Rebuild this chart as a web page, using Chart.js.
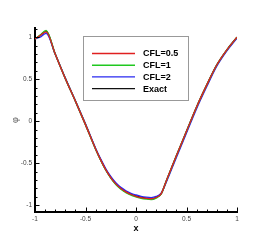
<!DOCTYPE html>
<html><head><meta charset="utf-8">
<script src="https://cdn.jsdelivr.net/npm/chart.js@4/dist/chart.umd.min.js"></script>
<style>html,body{margin:0;padding:0;background:#fff}canvas{display:block}</style>
</head><body>
<canvas id="c" width="270" height="240"></canvas>
<script>
const xs    = [-1, -0.95, -0.89, -0.8, -0.7, -0.6, -0.5, -0.4, -0.35, -0.3, -0.25, -0.2, -0.15, -0.1, -0.05, 0, 0.05, 0.1, 0.15, 0.2, 0.25, 0.3, 0.4, 0.5, 0.6, 0.7, 0.8, 0.9, 1];
const exact = [0.98, 1.02, 1.07, 0.80, 0.51, 0.24, -0.04, -0.33, -0.46, -0.575, -0.67, -0.745, -0.80, -0.84, -0.87, -0.89, -0.905, -0.915, -0.92, -0.905, -0.86, -0.71, -0.41, -0.12, 0.17, 0.43, 0.67, 0.85, 1.0];
const cfl05 = [0.98, 1.02, 1.065, 0.80, 0.51, 0.24, -0.04, -0.33, -0.46, -0.575, -0.67, -0.745, -0.80, -0.84, -0.872, -0.893, -0.908, -0.918, -0.922, -0.907, -0.862, -0.71, -0.41, -0.12, 0.17, 0.43, 0.67, 0.85, 1.0];
const cfl1  = [0.98, 1.025, 1.08, 0.80, 0.51, 0.24, -0.04, -0.332, -0.463, -0.58, -0.676, -0.752, -0.808, -0.85, -0.88, -0.90, -0.917, -0.927, -0.932, -0.915, -0.866, -0.71, -0.41, -0.12, 0.17, 0.43, 0.67, 0.85, 1.0];
const cfl2  = [0.98, 1.0, 1.045, 0.80, 0.515, 0.245, -0.03, -0.32, -0.448, -0.562, -0.657, -0.732, -0.787, -0.827, -0.857, -0.877, -0.893, -0.903, -0.908, -0.895, -0.855, -0.725, -0.43, -0.14, 0.15, 0.41, 0.655, 0.838, 0.99];
const labels = ['CFL=0.5', 'CFL=1', 'CFL=2', 'Exact'];
const colors = ['#e02020', '#20c820', '#2828f0', '#111111'];
const xTicks = [-1, -0.5, 0, 0.5, 1];
const yTicks = [-1, -0.5, 0, 0.5, 1];

const series = [cfl05, cfl1, cfl2, exact];
const datasets = series.map((ys, i) => ({
  label: labels[i],
  data: xs.map((x, j) => ({x: x, y: ys[j]})),
  borderColor: colors[i],
  borderWidth: i === 3 ? 1.5 : 1.3,
  pointRadius: 0,
  fill: false,
  cubicInterpolationMode: 'monotone'
}));

const tickFont = {family: 'Liberation Sans, Arial, sans-serif', size: 6.5};

const minorTicks = {
  id: 'minorTicks',
  afterDraw(chart) {
    const ctx = chart.ctx;
    const xs_ = chart.scales.x, ys_ = chart.scales.y;
    ctx.save();
    ctx.strokeStyle = '#000';
    ctx.lineWidth = 1;
    const y0 = xs_.top;
    for (let k = -10; k <= 10; k++) {
      const v = k / 10;
      const px = Math.round(xs_.getPixelForValue(v)) + 0.5;
      const len = (k % 5 === 0) ? 4.5 : 2.5;
      ctx.beginPath(); ctx.moveTo(px, y0); ctx.lineTo(px, y0 - len); ctx.stroke();
    }
    const x0 = ys_.right;
    for (let k = -10; k <= 11; k++) {
      const v = k / 10;
      if (v < ys_.min || v > ys_.max) continue;
      const py = Math.round(ys_.getPixelForValue(v)) + 0.5;
      const len = (k % 5 === 0) ? 4.5 : 2.5;
      ctx.beginPath(); ctx.moveTo(x0, py); ctx.lineTo(x0 + len, py); ctx.stroke();
    }
    ctx.restore();
  }
};

const boxLegend = {
  id: 'boxLegend',
  afterDraw(chart) {
    const ctx = chart.ctx;
    const bx = 83.5, by = 36.5, bw = 105, bh = 64;
    ctx.save();
    ctx.fillStyle = '#fff';
    ctx.fillRect(bx, by, bw, bh);
    ctx.strokeStyle = '#999';
    ctx.lineWidth = 1;
    ctx.strokeRect(bx, by, bw, bh);
    ctx.font = 'bold 9px "Liberation Sans", Arial, sans-serif';
    ctx.textBaseline = 'middle';
    chart.data.datasets.forEach((ds, i) => {
      const y = 53.5 + i * 11.7;
      ctx.strokeStyle = ds.borderColor;
      ctx.lineWidth = 1.4;
      ctx.beginPath(); ctx.moveTo(92, y); ctx.lineTo(135, y); ctx.stroke();
      ctx.fillStyle = '#000';
      ctx.fillText(ds.label, 143, y + 0.5);
    });
    ctx.restore();
  }
};

new Chart(document.getElementById('c'), {
  type: 'line',
  data: {datasets: datasets},
  options: {
    responsive: false,
    animation: false,
    devicePixelRatio: 1,
    layout: {padding: {top: 28, right: 33, left: 0, bottom: 0}},
    plugins: {legend: {display: false}, tooltip: {enabled: false}},
    scales: {
      x: {
        type: 'linear', min: -1, max: 1,
        afterBuildTicks: s => { s.ticks = xTicks.map(v => ({value: v})); },
        afterFit: s => { s.height = 28; },
        grid: {display: false, drawTicks: false},
        border: {display: true, color: '#000', width: 2},
        ticks: {padding: 3, color: '#444', font: tickFont, maxRotation: 0, autoSkip: false,
                callback: v => String(v)},
        title: {display: true, text: 'x', color: '#000', padding: {top: 0, bottom: 6},
                font: {family: 'Liberation Sans, Arial, sans-serif', size: 9, weight: 'bold'}}
      },
      y: {
        type: 'linear', min: -1.08, max: 1.11,
        afterBuildTicks: s => { s.ticks = yTicks.map(v => ({value: v})); },
        afterFit: s => { s.width = 35; },
        grid: {display: false, drawTicks: false},
        border: {display: true, color: '#000', width: 2},
        ticks: {padding: 3, color: '#444', font: tickFont, autoSkip: false,
                callback: v => String(v)},
        title: {display: true, text: 'φ', color: '#666', padding: {top: 10.5, bottom: 0},
                font: {family: 'Liberation Sans, Arial, sans-serif', size: 9}}
      }
    }
  },
  plugins: [minorTicks, boxLegend]
});
</script>
</body></html>
